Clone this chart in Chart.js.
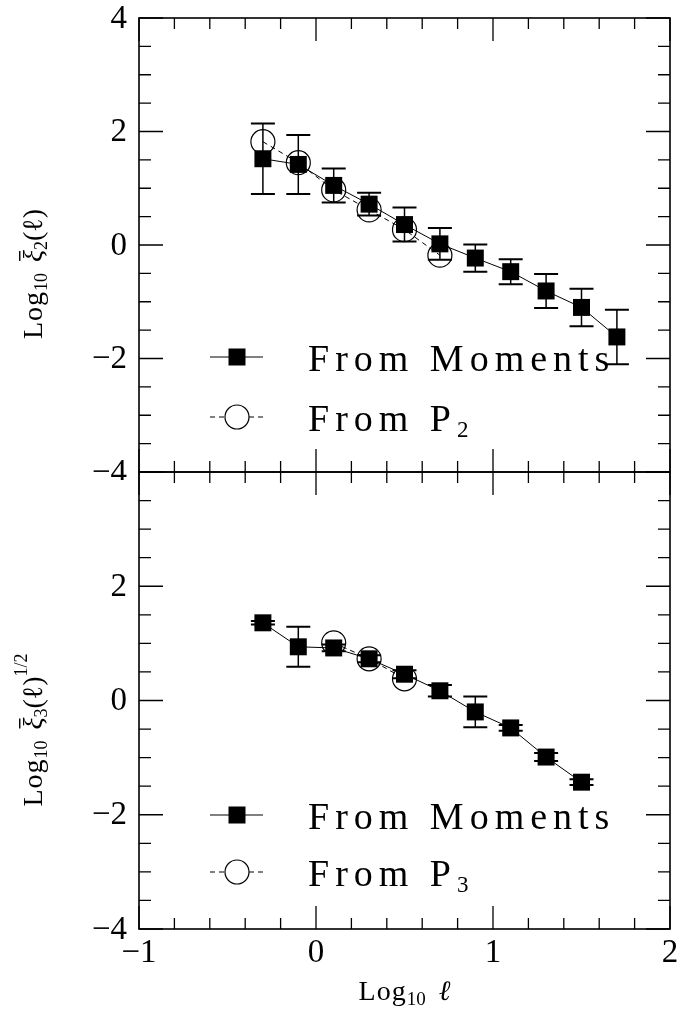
<!DOCTYPE html>
<html>
<head>
<meta charset="utf-8">
<script src="https://cdn.jsdelivr.net/npm/chart.js@4.4.0/dist/chart.umd.min.js"></script>
<style>
    html, body { margin: 0; padding: 0; background: #fff; }
    #wrap { position: relative; width: 681px; height: 1021px; }
    canvas { position: absolute; left: 0; }
    #topChart { top: 0; }
    #botChart { top: 460px; }
</style>
</head>
<body>
<div id="wrap">
    <canvas id="topChart" width="681" height="480"></canvas>
    <canvas id="botChart" width="681" height="561"></canvas>
</div>
<script>
// top panel: xi_2
const lTop = [-0.3, -0.1, 0.1, 0.3, 0.5, 0.7, 0.9, 1.1, 1.3, 1.5, 1.7];
const momTop = [1.52, 1.42, 1.05, 0.72, 0.36, 0.02, -0.23, -0.47, -0.81, -1.1, -1.62];
const errTop = [0.62, 0.52, 0.3, 0.2, 0.3, 0.28, 0.24, 0.22, 0.3, 0.33, 0.48];
const lP2 = [-0.3, -0.1, 0.1, 0.3, 0.5, 0.7];
const p2 = [1.82, 1.45, 0.97, 0.62, 0.27, -0.18];

// bottom panel: xi_3^(1/2)
const lBot = [-0.3, -0.1, 0.1, 0.3, 0.5, 0.7, 0.9, 1.1, 1.3, 1.5];
const momBot = [1.36, 0.94, 0.92, 0.73, 0.46, 0.17, -0.2, -0.48, -0.99, -1.43];
const errBot = [0.03, 0.35, 0.06, 0.06, 0.07, 0.1, 0.27, 0.05, 0.07, 0.05];
const lP3 = [0.1, 0.3, 0.5];
const p3 = [1.01, 0.73, 0.38];

const xTicks = [-1, 0, 1, 2];
const yTicksTop = [4, 2, 0, -2, -4];
const yTicksBot = [2, 0, -2, -4];

const SERIF = '"Liberation Serif", "DejaVu Serif", serif';

function fmt(v) {
    return v < 0 ? '\u2212' + Math.abs(v) : String(v);
}

// draws a row of text pieces (for subscripts, overlines...)
function richText(ctx, parts, x, y, align) {
    let w = 0;
    parts.forEach(p => {
        ctx.font = (p.italic ? 'italic ' : '') + p.size + 'px ' + SERIF;
        ctx.letterSpacing = (p.ls || 0) + 'px';
        p.w = ctx.measureText(p.t).width;
        w += p.w + (p.gap || 0);
    });
    let cx = align === 'center' ? x - w / 2 : x;
    parts.forEach(p => {
        ctx.font = (p.italic ? 'italic ' : '') + p.size + 'px ' + SERIF;
        ctx.letterSpacing = (p.ls || 0) + 'px';
        ctx.fillText(p.t, cx, y + (p.dy || 0));
        if (p.over) ctx.fillRect(cx + 1, y - p.size * 0.82, p.w - 2, 1.4);
        cx += p.w + (p.gap || 0);
    });
    ctx.letterSpacing = '0px';
}

function makePlugin(cfg) {
    return {
        id: 'frame',
        beforeDatasetsDraw(chart) {
            const ctx = chart.ctx, xs = chart.scales.x, ys = chart.scales.y;
            ctx.save();
            ctx.strokeStyle = '#000';
            cfg.ex.forEach((l, i) => {
                const px = xs.getPixelForValue(l);
                const y1 = ys.getPixelForValue(cfg.ey[i] + cfg.err[i]);
                const y2 = ys.getPixelForValue(cfg.ey[i] - cfg.err[i]);
                ctx.lineWidth = 1.5;
                ctx.beginPath();
                ctx.moveTo(px, y1); ctx.lineTo(px, y2);
                ctx.stroke();
                ctx.lineWidth = 2;
                ctx.beginPath();
                ctx.moveTo(px - 12, y1); ctx.lineTo(px + 12, y1);
                ctx.moveTo(px - 12, y2); ctx.lineTo(px + 12, y2);
                ctx.stroke();
            });
            ctx.restore();
        },
        afterDraw(chart) {
            const ctx = chart.ctx, a = chart.chartArea;
            const xs = chart.scales.x, ys = chart.scales.y;
            ctx.save();
            ctx.strokeStyle = '#000';
            ctx.fillStyle = '#000';

            // frame
            ctx.lineWidth = 1.6;
            ctx.strokeRect(a.left, a.top, a.right - a.left, a.bottom - a.top);

            // ticks (inward)
            ctx.lineWidth = 1.3;
            ctx.beginPath();
            for (let i = 0; i <= 16; i++) {
                const py = ys.getPixelForValue(-4 + i * 0.5);
                const len = i % 4 === 0 ? 24 : 12;
                ctx.moveTo(a.left, py); ctx.lineTo(a.left + len, py);
                ctx.moveTo(a.right, py); ctx.lineTo(a.right - len, py);
            }
            for (let i = 0; i <= 15; i++) {
                const px = xs.getPixelForValue(-1 + i * 0.2);
                const len = i % 5 === 0 ? 23 : 11;
                ctx.moveTo(px, a.top); ctx.lineTo(px, a.top + len);
                ctx.moveTo(px, a.bottom); ctx.lineTo(px, a.bottom - len);
            }
            ctx.stroke();

            // tick labels
            ctx.font = '33px ' + SERIF;
            ctx.textAlign = 'right';
            ctx.textBaseline = 'middle';
            cfg.yTicks.forEach(v => {
                ctx.fillText(fmt(v), a.left - 12, ys.getPixelForValue(v) + 1);
            });
            if (cfg.xLabels) {
                ctx.textAlign = 'center';
                xTicks.forEach(v => {
                    ctx.fillText(fmt(v), xs.getPixelForValue(v), a.bottom + 24);
                });
            }

            // y title (rotated)
            ctx.textAlign = 'left';
            ctx.textBaseline = 'alphabetic';
            ctx.save();
            ctx.translate(42, cfg.titleY);
            ctx.rotate(-Math.PI / 2);
            richText(ctx, cfg.yTitle, 0, 0, 'center');
            ctx.restore();

            // x title
            if (cfg.xLabels) {
                richText(ctx, [
                    { t: 'Log', size: 28, ls: 1 },
                    { t: '10', size: 19, dy: 5, gap: 13 },
                    { t: '\u2113', size: 28, italic: true }
                ], (a.left + a.right) / 2, a.bottom + 71, 'center');
            }

            // legend
            const lx1 = 210, lx2 = 263, lc = 237, tx = 308;
            const r1 = a.top + cfg.leg[0], r2 = a.top + cfg.leg[1];
            ctx.lineWidth = 1;
            ctx.beginPath();
            ctx.moveTo(lx1, r1); ctx.lineTo(lx2, r1);
            ctx.stroke();
            ctx.fillRect(lc - 8.5, r1 - 8.5, 17, 17);
            ctx.setLineDash([5, 4]);
            ctx.beginPath();
            ctx.moveTo(lx1, r2); ctx.lineTo(lc - 12, r2);
            ctx.moveTo(lc + 12, r2); ctx.lineTo(lx2, r2);
            ctx.stroke();
            ctx.setLineDash([]);
            ctx.lineWidth = 1.2;
            ctx.beginPath();
            ctx.arc(lc, r2, 12, 0, Math.PI * 2);
            ctx.stroke();
            richText(ctx, [{ t: 'From Moments', size: 38, ls: 6 }], tx, r1 + 14, 'left');
            richText(ctx, [
                { t: 'From P', size: 38, ls: 6 },
                { t: cfg.pSub, size: 23, dy: 6 }
            ], tx, r2 + 14, 'left');

            ctx.restore();
        }
    };
}

function pts(xa, ya) {
    return xa.map((x, i) => ({ x: x, y: ya[i] }));
}

function makeChart(id, mom, momX, pd, pdX, pad, plugin) {
    return new Chart(document.getElementById(id), {
        type: 'scatter',
        data: {
            datasets: [{
                label: 'From Moments',
                data: pts(momX, mom),
                showLine: true,
                borderColor: '#000',
                borderWidth: 1,
                pointStyle: 'rect',
                pointRadius: 12,
                pointBackgroundColor: '#000',
                pointBorderColor: '#000',
                pointBorderWidth: 0
            }, {
                label: 'From P',
                data: pts(pdX, pd),
                showLine: true,
                borderColor: '#000',
                borderWidth: 1,
                borderDash: [5, 4],
                pointStyle: 'circle',
                pointRadius: 12,
                pointBackgroundColor: 'rgba(0,0,0,0)',
                pointBorderColor: '#000',
                pointBorderWidth: 1.2
            }]
        },
        options: {
            responsive: false,
            animation: false,
            events: [],
            layout: { padding: pad, autoPadding: false },
            plugins: { legend: { display: false }, tooltip: { enabled: false } },
            scales: {
                x: { type: 'linear', min: -1, max: 2, display: false },
                y: { type: 'linear', min: -4, max: 4, display: false }
            }
        },
        plugins: [plugin]
    });
}

makeChart('topChart', momTop, lTop, p2, lP2,
    { left: 139, right: 11, top: 18, bottom: 8 },
    makePlugin({
        ex: lTop, ey: momTop, err: errTop,
        yTicks: yTicksTop, xLabels: false,
        titleY: 274, leg: [339, 399], pSub: '2',
        yTitle: [
            { t: 'Log', size: 28, ls: 1 },
            { t: '10', size: 18, dy: 5, gap: 11 },
            { t: '\u03be', size: 28, italic: true, over: true },
            { t: '2', size: 18, dy: 5 },
            { t: '(\u2113)', size: 28 }
        ]
    }));

makeChart('botChart', momBot, lBot, p3, lP3,
    { left: 139, right: 11, top: 12, bottom: 92 },
    makePlugin({
        ex: lBot, ey: momBot, err: errBot,
        yTicks: yTicksBot, xLabels: true,
        titleY: 270, leg: [343, 400], pSub: '3',
        yTitle: [
            { t: 'Log', size: 28, ls: 1 },
            { t: '10', size: 18, dy: 5, gap: 11 },
            { t: '\u03be', size: 28, italic: true, over: true },
            { t: '3', size: 18, dy: 5 },
            { t: '(\u2113)', size: 28 },
            { t: '1/2', size: 18, dy: -15 }
        ]
    }));
</script>
</body>
</html>
